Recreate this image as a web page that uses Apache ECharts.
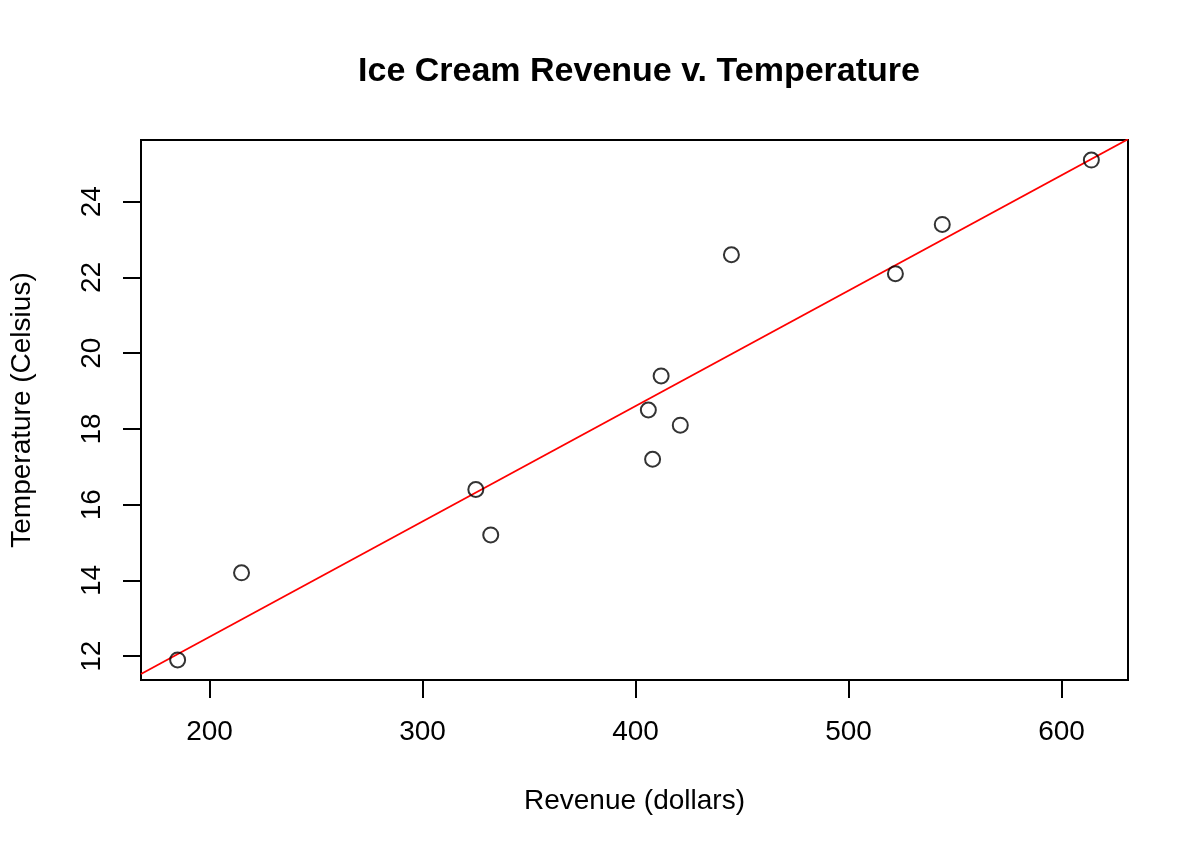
<!DOCTYPE html>
<html>
<head>
<meta charset="utf-8">
<script src="https://cdn.jsdelivr.net/npm/echarts@6/dist/echarts.min.js"></script>
<style>
	html, body { margin: 0; padding: 0; background: #fff; }
	#main { width: 1200px; height: 857px; }
</style>
</head>
<body>
<div id="main"></div>
<script>
// 数据
const revenue = [215, 325, 185, 332, 406, 522, 412, 614, 544, 421, 445, 408];
const temperature = [14.2, 16.4, 11.9, 15.2, 18.5, 22.1, 19.4, 25.1, 23.4, 18.1, 22.6, 17.2];
const xTicks = [200, 300, 400, 500, 600];
const yTicks = [12, 14, 16, 18, 20, 22, 24];
// 拟合线两端
const fitLine = [[167.8, 11.53], [631.2, 25.65]];

const points = revenue.map((v, i) => [v, temperature[i]]);

let chart = echarts.init(document.getElementById('main'));
let font = 'Liberation Sans, Arial, sans-serif';

let option = {
	animation: false,
	backgroundColor: '#fff',
	title: {
		text: 'Ice Cream Revenue v. Temperature',
		left: 634,
		textAlign: 'center',
		top: 50,
		textStyle: {
			fontFamily: font,
			fontSize: 34,
			fontWeight: 'bold',
			color: '#000',
		},
	},
	grid: {
		left: 141,
		right: 72,
		top: 140,
		bottom: 177,
		show: true,
		borderColor: '#000',
		borderWidth: 2,
	},
	xAxis: {
		type: 'value',
		min: 167.8,
		max: 631.2,
		name: 'Revenue (dollars)',
		nameLocation: 'middle',
		nameGap: 107,
		nameTextStyle: { fontFamily: font, fontSize: 28, color: '#000' },
		splitLine: { show: false },
		axisLine: { show: false },
		axisTick: {
			show: true,
			length: 18,
			customValues: xTicks,
			lineStyle: { color: '#000', width: 2 },
		},
		axisLabel: {
			customValues: xTicks,
			margin: 38,
			fontFamily: font,
			fontSize: 28,
			color: '#000',
		},
	},
	yAxis: {
		type: 'value',
		min: 11.37,
		max: 25.63,
		name: 'Temperature (Celsius)',
		nameLocation: 'middle',
		nameGap: 105,
		nameTextStyle: { fontFamily: font, fontSize: 28, color: '#000' },
		splitLine: { show: false },
		axisLine: { show: false },
		axisTick: {
			show: true,
			length: 18,
			customValues: yTicks,
			lineStyle: { color: '#000', width: 2 },
		},
		axisLabel: {
			customValues: yTicks,
			rotate: 90,
			margin: 35,
			fontFamily: font,
			fontSize: 28,
			color: '#000',
		},
	},
	series: [
		{
			type: 'line',
			data: fitLine,
			showSymbol: false,
			lineStyle: { color: '#ff0000', width: 1.8 },
			z: 2,
		},
		{
			type: 'scatter',
			data: points,
			symbol: 'circle',
			symbolSize: 15,
			itemStyle: {
				color: 'rgba(255,255,255,0)',
				borderColor: '#000',
				borderWidth: 2,
			},
			z: 3,
		},
	],
};
chart.setOption(option);
</script>
</body>
</html>
